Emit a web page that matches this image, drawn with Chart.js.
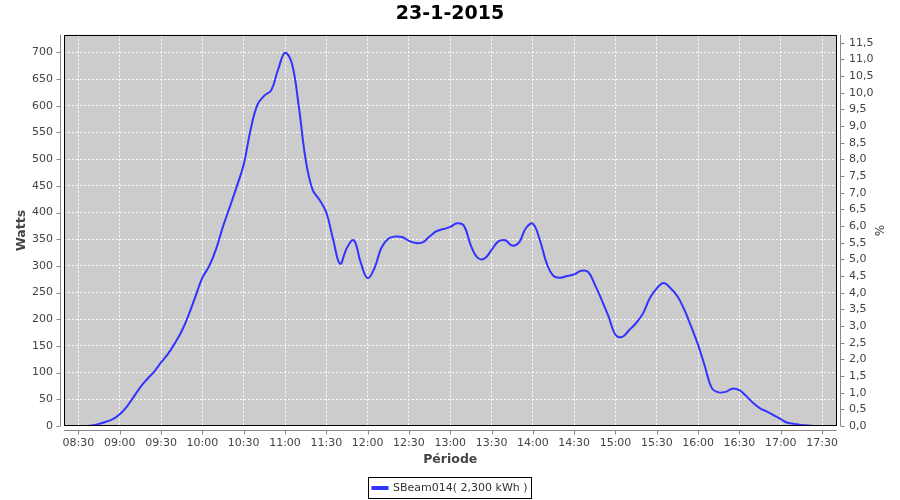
<!DOCTYPE html>
<html>
<head>
<meta charset="utf-8">
<script src="https://cdn.jsdelivr.net/npm/chart.js@4/dist/chart.umd.min.js"></script>
<style>
html,body{margin:0;padding:0;background:#ffffff;}
#wrap{width:900px;height:500px;}
</style>
</head>
<body>
<div id="wrap"><canvas id="c" width="900" height="500"></canvas></div>
<script>
const chartTitle = '23-1-2015';
const seriesLabel = 'SBeam014( 2,300 kWh )';
const xAxisTitle = 'Période';
const yAxisTitle = 'Watts';
const y2AxisTitle = '%';

const times = [
  '08:30','08:35','08:40','08:45','08:50','08:55','09:00','09:05','09:10','09:15','09:20','09:25',
  '09:30','09:35','09:40','09:45','09:50','09:55','10:00','10:05','10:10','10:15','10:20','10:25',
  '10:30','10:35','10:40','10:45','10:50','10:55','11:00','11:05','11:10','11:15','11:20','11:25',
  '11:30','11:35','11:40','11:45','11:50','11:55','12:00','12:05','12:10','12:15','12:20','12:25',
  '12:30','12:35','12:40','12:45','12:50','12:55','13:00','13:05','13:10','13:15','13:20','13:25',
  '13:30','13:35','13:40','13:45','13:50','13:55','14:00','14:05','14:10','14:15','14:20','14:25',
  '14:30','14:35','14:40','14:45','14:50','14:55','15:00','15:05','15:10','15:15','15:20','15:25',
  '15:30','15:35','15:40','15:45','15:50','15:55','16:00','16:05','16:10','16:15','16:20','16:25',
  '16:30','16:35','16:40','16:45','16:50','16:55','17:00','17:05','17:10','17:15','17:20','17:25',
  '17:30'
];
const watts = [
  0,0,1,4,8,13,22,36,54,73,88,102,
  119,135,155,178,208,243,278,300,332,374,411,449,
  490,555,602,619,629,668,699,679,599,499,443,424,
  400,349,304,334,348,306,277,296,334,351,355,354,
  347,343,344,355,365,369,373,380,375,338,315,314,
  330,346,348,338,344,371,379,349,305,281,278,281,
  284,291,289,265,236,205,171,167,180,193,211,240,
  258,268,258,243,218,186,152,111,71,63,64,70,
  67,56,43,33,27,20,13,6,4,2,1,0,
  0
];

const timeTicks = ['08:30','09:00','09:30','10:00','10:30','11:00','11:30','12:00','12:30','13:00',
  '13:30','14:00','14:30','15:00','15:30','16:00','16:30','17:00','17:30'];
const wattTicks = [0,50,100,150,200,250,300,350,400,450,500,550,600,650,700];
const pctTicks = [0,0.5,1,1.5,2,2.5,3,3.5,4,4.5,5,5.5,6,6.5,7,7.5,8,8.5,9,9.5,10,10.5,11,11.5];

const xMin = '08:19.5', xMax = '17:40.5';
const wattMax = 733;
const pctMax = 11.74;

function toMin(s){ const p = s.split(':'); return parseInt(p[0],10)*60 + parseFloat(p[1]); }
function fmtTime(v){ const h = Math.floor(v/60), m = Math.round(v - h*60); return (h<10?'0':'')+h+':'+(m<10?'0':'')+m; }

const FONT = 'DejaVu Sans';
const tickFont = {family: FONT, size: 11};
const tickColor = '#444444';

const plotDecor = {
  id: 'plotDecor',
  beforeDraw(chart){
    const a = chart.chartArea, ctx = chart.ctx;
    ctx.save();
    ctx.fillStyle = '#cccccc';
    ctx.fillRect(a.left, a.top, a.right - a.left, a.bottom - a.top);
    ctx.restore();
  },
  afterDraw(chart){
    const a = chart.chartArea, ctx = chart.ctx;
    ctx.save();
    ctx.setLineDash([]);
    ctx.strokeStyle = '#000000';
    ctx.lineWidth = 1;
    ctx.strokeRect(Math.round(a.left)+0.5, Math.round(a.top)+0.5, Math.round(a.right - a.left)-1, Math.round(a.bottom - a.top)-1);
    ctx.strokeStyle = '#888888';
    const L = Math.round(a.left) - 3.5, R = Math.round(a.right) + 3.5, B = Math.round(a.bottom) + 4.5;
    ctx.beginPath();
    ctx.moveTo(L, a.top); ctx.lineTo(L, a.bottom);
    ctx.moveTo(R, a.top); ctx.lineTo(R, a.bottom);
    ctx.moveTo(a.left, B); ctx.lineTo(a.right, B);
    chart.scales.y.ticks.forEach(t => { const py = Math.round(chart.scales.y.getPixelForValue(t.value)) + 0.5; ctx.moveTo(L - 4, py); ctx.lineTo(L, py); });
    chart.scales.y1.ticks.forEach(t => { const py = Math.round(chart.scales.y1.getPixelForValue(t.value)) + 0.5; ctx.moveTo(R, py); ctx.lineTo(R + 4, py); });
    chart.scales.x.ticks.forEach(t => { const px = Math.round(chart.scales.x.getPixelForValue(t.value)) + 0.5; ctx.moveTo(px, B); ctx.lineTo(px, B + 4); });
    ctx.stroke();
    const lg = chart.legend;
    if (lg && lg.legendHitBoxes && lg.legendHitBoxes.length){
      const hb = lg.legendHitBoxes[0];
      ctx.strokeStyle = '#000000';
      ctx.strokeRect(Math.round(hb.left) - 3.5, Math.round(hb.top + hb.height/2) - 10.5, Math.round(hb.width) + 8, 21);
    }
    ctx.restore();
  }
};

new Chart(document.getElementById('c'), {
  type: 'line',
  data: {
    datasets: [{
      label: seriesLabel,
      data: times.map((t, i) => ({x: toMin(t), y: watts[i]})),
      borderColor: '#3333ff',
      backgroundColor: '#3333ff',
      borderWidth: 2,
      pointRadius: 0,
      tension: 0.4,
      fill: false,
      yAxisID: 'y'
    }]
  },
  options: {
    responsive: false,
    animation: false,
    devicePixelRatio: 1,
    layout: {padding: {left: 0, right: 0, top: 0, bottom: -3.5}},
    plugins: {
      title: {display: true, text: chartTitle, color: '#000000',
        font: {family: FONT, size: 19, weight: 'bold'}, padding: {top: 3, bottom: 9}},
      legend: {display: true, position: 'bottom',
        labels: {boxWidth: 15, boxHeight: 2, color: '#333333', font: {family: FONT, size: 11}, padding: 13.5}},
      tooltip: {enabled: false}
    },
    scales: {
      x: {
        type: 'linear', position: 'bottom', bounds: 'data',
        min: toMin(xMin), max: toMin(xMax),
        afterBuildTicks: s => { s.ticks = timeTicks.map(t => ({value: toMin(t)})); },
        afterFit: s => { s.height = 43; },
        ticks: {callback: v => fmtTime(v), font: tickFont, color: tickColor, padding: 11, maxRotation: 0, autoSkip: false},
        grid: {color: '#ffffff', lineWidth: 1, drawTicks: false},
        border: {display: false, dash: [2, 2]},
        title: {display: true, text: xAxisTitle, color: '#444444', font: {family: FONT, size: 12.5, weight: 'bold'}, padding: {top: 0, bottom: 1.5}}
      },
      y: {
        type: 'linear', position: 'left', bounds: 'data', min: 0, max: wattMax,
        afterBuildTicks: s => { s.ticks = wattTicks.map(v => ({value: v})); },
        afterFit: s => { s.width = 64; },
        ticks: {callback: v => String(v), font: tickFont, color: tickColor, padding: 11, autoSkip: false},
        grid: {color: '#ffffff', lineWidth: 1, drawTicks: false},
        border: {display: false, dash: [2, 2]},
        title: {display: true, text: yAxisTitle, color: '#444444', font: {family: FONT, size: 12.5, weight: 'bold'}, padding: {top: 14.5, bottom: 0}}
      },
      y1: {
        type: 'linear', position: 'right', bounds: 'data', min: 0, max: pctMax,
        afterBuildTicks: s => { s.ticks = pctTicks.map(v => ({value: v})); },
        afterFit: s => { s.width = 63.5; },
        ticks: {callback: v => v.toFixed(1).replace('.', ','), font: tickFont, color: tickColor, padding: 12.5, autoSkip: false},
        grid: {drawOnChartArea: false, drawTicks: false},
        border: {display: false},
        title: {display: true, text: y2AxisTitle, color: '#444444', font: {family: FONT, size: 12}, padding: {top: 14.8, bottom: 0}}
      }
    }
  },
  plugins: [plotDecor]
});
</script>
</body>
</html>
